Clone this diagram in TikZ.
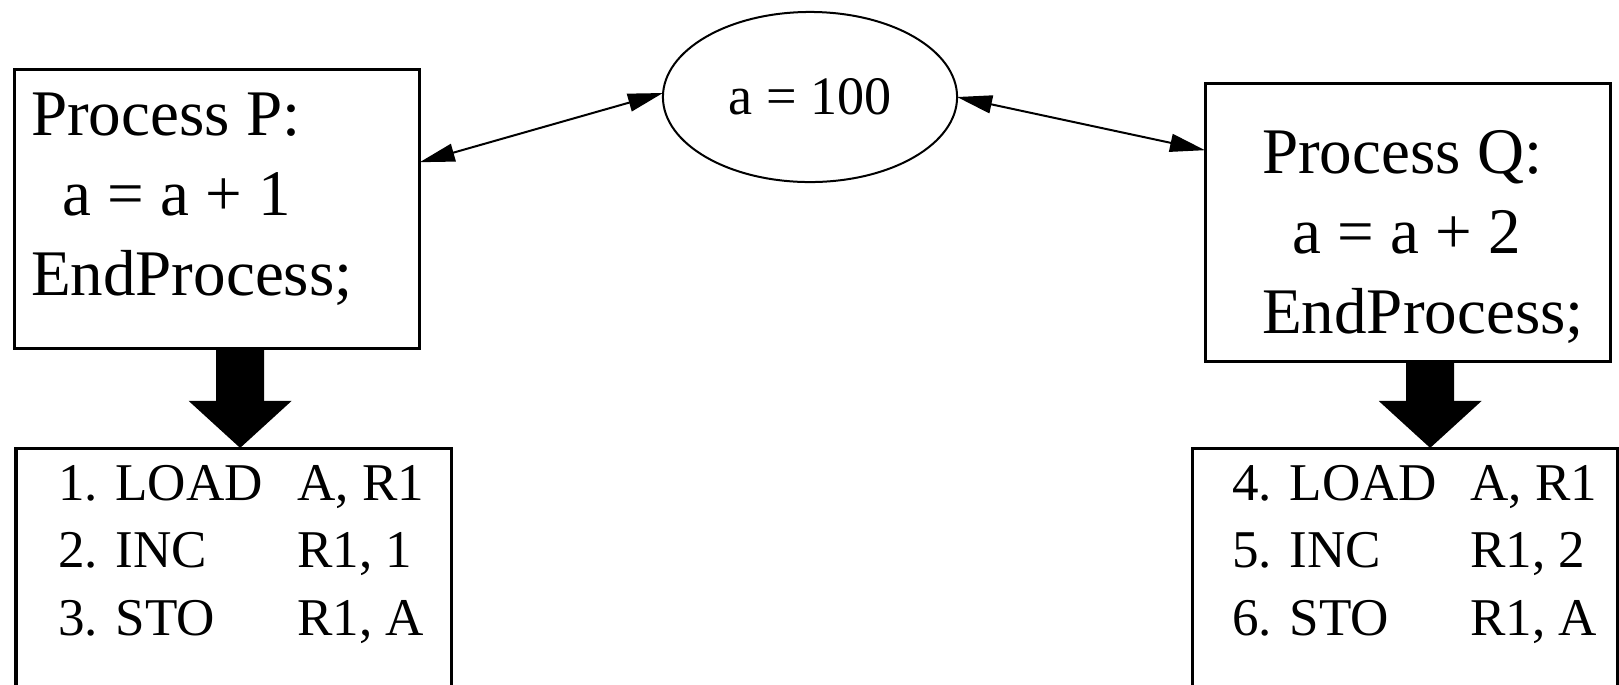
\documentclass[tikz,border=0pt]{standalone}
\usepackage{fontspec}
\setmainfont{Liberation Serif}
\usepackage{tikz}
\usetikzlibrary{positioning,arrows.meta,shapes.geometric}
\newcommand{\procfont}{\fontsize{18.5pt}{22.8pt}\selectfont}
\newcommand{\codefont}{\fontsize{15.1pt}{19.3pt}\selectfont}

\begin{document}
\begin{tikzpicture}[
  x=0.01cm, y=-0.01cm,
  proc/.style={draw, line width=0.03cm, inner sep=0pt, outer sep=0pt,
               anchor=north west, font=\procfont},
  code/.style={draw, line width=0.03cm, inner sep=0pt, outer sep=0pt,
               anchor=north west, font=\codefont},
  shared/.style={ellipse, draw, line width=0.02cm, inner sep=0pt, outer sep=0pt,
                 minimum width=2.94cm, minimum height=1.7cm,
                 font=\fontsize{15.4pt}{18pt}\selectfont},
  access/.style={{Triangle[length=0.35cm,width=0.18cm]}-{Triangle[length=0.35cm,width=0.18cm]},
                 line width=0.02cm},
  compile/.style={-{Triangle[length=0.47cm,width=1cm]}, line width=0.48cm}
]
\useasboundingbox (0,0) rectangle (1619,684);
\clip (0,0) rectangle (1619,684);

\node[shared] (var) at (810,97) {a = 100};

\node[proc] (boxP) at (14.5,69) {\begin{tabular}{@{\hspace{1.65mm}}p{3.885cm}@{}}
  \rule{0pt}{6.6mm}Process P:\\
  \hspace*{3.1mm}a = a + 1\\
  EndProcess;\\[2.9mm]
\end{tabular}};
\node[proc] (boxQ) at (1205,83) {\begin{tabular}{@{\hspace{5.7mm}}p{3.48cm}@{}}
  \rule{0pt}{9mm}Process Q:\\
  \hspace*{3mm}a = a + 2\\
  EndProcess;\\[0.4mm]
\end{tabular}};

\node[code] (lowP) at (16,448) {\begin{tabular}{@{\hspace{4.2mm}}p{2.39cm}@{}p{1.54cm}@{}}
  \rule{0pt}{5.2mm}1. LOAD & A, R1\\
  2. INC & R1, 1\\
  3. STO & R1, A\\[6mm]
\end{tabular}};
\node[code] (lowQ) at (1192,448) {\begin{tabular}{@{\hspace{4mm}}p{2.38cm}@{}p{1.47cm}@{}}
  \rule{0pt}{5.2mm}4. LOAD & A, R1\\
  5. INC & R1, 2\\
  6. STO & R1, A\\[6mm]
\end{tabular}};

\draw[access] ([yshift=0.465cm]boxP.east) -- ([yshift=0.04cm]var.west);
\draw[access] (var.east) -- ([yshift=0.72cm]boxQ.west);

\draw[compile] ([xshift=0.23cm]boxP.south) -- ([xshift=0.065cm]lowP.north);
\draw[compile] ([xshift=0.225cm]boxQ.south) -- ([xshift=0.255cm]lowQ.north);
\end{tikzpicture}
\end{document}
